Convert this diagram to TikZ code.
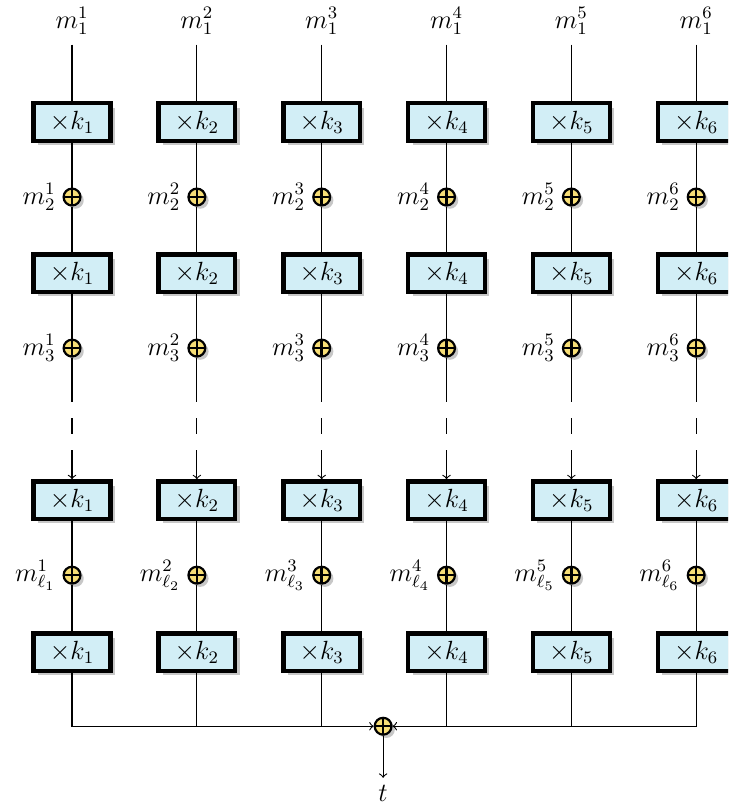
\documentclass[tikz,border=0pt]{standalone}
\usepackage{amsmath, amssymb}
\usepackage{tikz}
\usetikzlibrary{shadows,positioning,calc}

\definecolor{boxfill}{RGB}{210,238,246}
\definecolor{sumfill}{RGB}{247,222,118}

\tikzset{
    wire/.style={line width=0.5pt},
    mulbox/.style={draw, line width=2pt, fill=boxfill, minimum width=1.23cm,
        minimum height=0.6cm, inner sep=0pt,
        drop shadow={shadow xshift=2pt, shadow yshift=-2pt, opacity=1, fill=black!22}},
    sumnode/.style={circle, draw, line width=1pt, fill=sumfill, minimum size=0.27cm,
        inner sep=0pt,
        path picture={\draw[line width=1.1pt]
            (path picture bounding box.north) -- (path picture bounding box.south)
            (path picture bounding box.west) -- (path picture bounding box.east);},
        drop shadow={shadow xshift=1.5pt, shadow yshift=-1.5pt, opacity=1, fill=black!22}},
    inlabel/.style={inner sep=0.3em}
}

\begin{document}
\begin{tikzpicture}[>=to, font={\fontsize{11.5}{14}\selectfont}]

% Page size (the right column is cut off)
\useasboundingbox (-1.154,1.955) rectangle (10.513,-10.894);
\clip (-1.154,1.955) rectangle (10.513,-10.894);

% One column per key
\foreach \j [evaluate=\j as \xx using 2*(\j-1)] in {1,...,6}{
    % inputs
    \node (top-\j) at (\xx,1.62) {$m_1^{\j}$};

    % multiply and add stages
    \node[mulbox] (ba-\j) at (\xx,0) {$\times k_{\j}$};
    \node[sumnode] (sa-\j) at (\xx,-1.202) {};
    \node[mulbox] (bb-\j) at (\xx,-2.420) {$\times k_{\j}$};
    \node[sumnode] (sb-\j) at (\xx,-3.622) {};
    \node[mulbox] (bc-\j) at (\xx,-6.058) {$\times k_{\j}$};
    \node[sumnode] (sc-\j) at (\xx,-7.260) {};
    \node[mulbox] (bd-\j) at (\xx,-8.494) {$\times k_{\j}$};

    % message labels
    \node[inlabel, left=0pt of sa-\j] (la-\j) {$m_2^{\j}$};
    \node[inlabel, left=0pt of sb-\j] (lb-\j) {$m_3^{\j}$};
    \node[inlabel, left=0pt of sc-\j] (lc-\j) {$m_{\ell_{\j}}^{\j}$};

    % gap in the chain
    \coordinate (da-\j) at (\xx,-4.487);
    \coordinate (db-\j) at (\xx,-4.744);
    \coordinate (dc-\j) at (\xx,-5.000);
    \coordinate (dd-\j) at (\xx,-5.257);

    % wires
    \draw[wire, shorten <=1pt] (top-\j) -- (ba-\j);
    \draw[wire] (ba-\j) -- (sa-\j) -- (bb-\j) -- (sb-\j) -- (da-\j);
    \draw[wire] (db-\j) -- (dc-\j);
    \draw[wire, ->] (dd-\j) -- (bc-\j);
    \draw[wire] (bc-\j) -- (sc-\j) -- (bd-\j);
}

% Final sum
\node[sumnode] (sum) at (4.984,-9.680) {};
\node (out) at (4.984,-10.76) {$t$};

\draw[wire, ->] (bd-1) |- (sum);
\draw[wire, ->] (bd-6) |- (sum);
\foreach \j in {2,...,5}
    \draw[wire] (bd-\j) -- (bd-\j |- sum);
\draw[wire, ->] (sum) -- (out);

\end{tikzpicture}
\end{document}
